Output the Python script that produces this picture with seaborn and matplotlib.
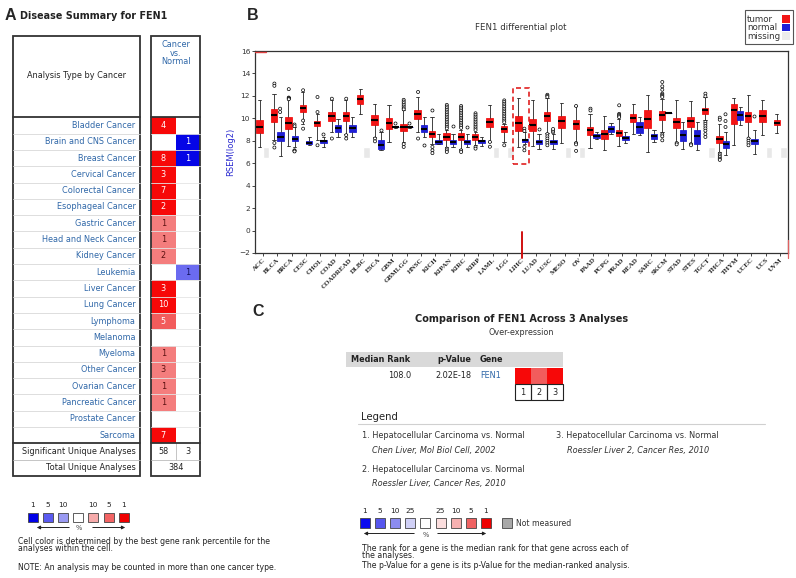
import numpy as np
import pandas as pd
import seaborn as sns
import matplotlib.pyplot as plt
from matplotlib.patches import Rectangle

sns.set_theme(style='white')
plt.rcParams['font.family'] = ['DejaVu Sans']

# ---------------- panel A data (Oncomine disease summary) ----------------
cancer_types = ['Bladder Cancer', 'Brain and CNS Cancer', 'Breast Cancer', 'Cervical Cancer',
                'Colorectal Cancer', 'Esophageal Cancer', 'Gastric Cancer', 'Head and Neck Cancer',
                'Kidney Cancer', 'Leukemia', 'Liver Cancer', 'Lung Cancer', 'Lymphoma', 'Melanoma',
                'Myeloma', 'Other Cancer', 'Ovarian Cancer', 'Pancreatic Cancer', 'Prostate Cancer',
                'Sarcoma']
up_counts = [4, None, 8, 3, 7, 2, 1, 1, 2, None, 3, 10, 5, None, 1, 3, 1, 1, None, 7]
up_levels = [1, None, 1, 1, 1, 1, 10, 10, 10, None, 1, 1, 5, None, 10, 10, 10, 10, None, 1]
down_counts = [None, 1, 1, None, None, None, None, None, None, 1,
               None, None, None, None, None, None, None, None, None, None]
down_levels = [None, 1, 1, None, None, None, None, None, None, 10,
               None, None, None, None, None, None, None, None, None, None]
sig_up, sig_down, total_analyses = 58, 3, 384

# ---------------- panel B data (RSEM log2 boxes: low whisker, q1, median, q3, high whisker) ----------------
cancers = ['ACC', 'BLCA', 'BRCA', 'CESC', 'CHOL', 'COAD', 'COADREAD', 'DLBC', 'ESCA', 'GBM',
           'GBMLGG', 'HNSC', 'KICH', 'KIPAN', 'KIRC', 'KIRP', 'LAML', 'LGG', 'LIHC', 'LUAD',
           'LUSC', 'MESO', 'OV', 'PAAD', 'PCPG', 'PRAD', 'READ', 'SARC', 'SKCM', 'STAD',
           'STES', 'TGCT', 'THCA', 'THYM', 'UCEC', 'UCS', 'UVM']
tumor_stats = [
    (7.45, 8.69, 9.23, 9.82, 11.6), (8.04, 9.67, 10.27, 10.86, 12.2), (7.5, 9.08, 9.58, 10.12, 11.9),
    (9.52, 10.56, 10.95, 11.16, 12.35), (8.04, 9.29, 9.58, 9.76, 10.4), (8.8, 9.76, 10.18, 10.56, 11.6),
    (8.63, 9.76, 10.18, 10.56, 11.6), (10.36, 11.3, 11.75, 12.05, 12.65), (8.34, 9.38, 9.82, 10.27, 11.3),
    (7.9, 9.08, 9.58, 10.06, 11.16), (7.9, 8.87, 9.23, 9.52, 10.7), (8.78, 9.97, 10.42, 10.77, 11.9),
    (7.74, 8.34, 8.63, 8.87, 10.1), (7.45, 8.07, 8.34, 8.67, 8.96), (7.3, 8.07, 8.34, 8.67, 8.96),
    (7.6, 8.07, 8.3, 8.6, 8.8), (7.9, 9.23, 9.67, 10.03, 11.19), (7.9, 8.75, 9.08, 9.34, 9.5),
    (7.45, 8.87, 9.58, 10.18, 11.84), (7.5, 8.87, 9.44, 9.97, 11.66), (8.7, 9.76, 10.18, 10.56, 11.8),
    (7.8, 9.17, 9.73, 10.18, 11.37), (7.9, 9.08, 9.47, 9.82, 11.07), (7.4, 8.49, 8.93, 9.23, 10.42),
    (7.15, 8.19, 8.57, 8.99, 10.18), (7.5, 8.4, 8.7, 8.93, 9.97), (8.63, 9.67, 10.06, 10.42, 11.25),
    (7.0, 9.17, 9.97, 10.71, 12.05), (8.78, 9.82, 10.27, 10.65, 11.75), (7.9, 9.17, 9.67, 10.06, 11.6),
    (7.8, 9.23, 9.76, 10.12, 11.54), (9.82, 10.42, 10.71, 10.95, 11.9), (7.0, 7.8, 8.19, 8.4, 9.52),
    (7.6, 9.47, 10.77, 11.25, 11.8), (8.28, 9.67, 10.18, 10.56, 12.05), (8.49, 9.67, 10.18, 10.71, 11.66),
    (8.7, 9.38, 9.58, 9.82, 10.42),
]
normal_stats = [
    None, (6.6, 7.98, 8.34, 8.78, 10.1), (7.45, 7.98, 8.19, 8.4, 9.2),
    (7.6, 7.68, 7.83, 7.98, 8.34), (7.45, 7.8, 7.95, 8.1, 8.34), (8.34, 8.78, 9.17, 9.38, 9.97),
    (8.34, 8.78, 9.17, 9.38, 10.1), None, (7.15, 7.3, 7.6, 8.1, 8.78),
    (9.17, 9.2, 9.23, 9.26, 9.29), (9.17, 9.2, 9.23, 9.26, 9.29), (8.34, 8.78, 9.08, 9.38, 10.1),
    (7.68, 7.74, 7.9, 8.1, 8.57), (7.45, 7.74, 7.9, 8.1, 8.63), (7.45, 7.74, 7.9, 8.1, 8.63),
    (7.5, 7.8, 7.95, 8.1, 8.34), None, None,
    (7.68, 7.9, 8.04, 8.19, 8.78), (7.3, 7.68, 7.9, 8.04, 8.63), (7.3, 7.68, 7.9, 8.04, 8.6),
    None, None, (8.19, 8.28, 8.43, 8.57, 8.78),
    (8.63, 8.78, 9.08, 9.32, 9.58), (7.8, 8.1, 8.28, 8.43, 8.78), (8.49, 8.7, 9.23, 9.67, 10.1),
    (7.9, 8.19, 8.4, 8.57, 8.93), (10.5, 10.5, 10.5, 10.5, 10.5), (7.3, 7.98, 8.49, 8.93, 9.67),
    (7.15, 7.74, 8.4, 8.93, 9.67), None, (6.7, 7.39, 7.68, 7.98, 8.78),
    (9.38, 9.82, 10.27, 10.62, 11.0), (6.85, 7.68, 7.98, 8.19, 8.99), None,
    None,
]
tumor_fliers = [
    [], [13.1, 12.9, 7.8, 7.4], [12.6, 11.85, 11.8, 11.75, 11.7], [12.5, 9.8, 9.08], [11.9, 10.56, 7.6],
    [11.75, 8.2], [11.75, 8.5, 8.2], [], [8.2, 7.95], [],
    [11.65, 11.5, 11.35, 11.2, 11.05, 10.9, 10.8, 7.7, 7.45], [12.35, 8.2], [10.7, 7.45, 7.15, 6.9],
    [11.2, 11.05, 10.9, 10.75, 10.6, 10.45, 10.3, 10.15, 10.0, 9.85, 9.7, 9.55, 9.4, 9.25, 9.1, 7.3, 7.15, 7.0],
    [11.1, 10.95, 10.8, 10.65, 10.5, 10.35, 10.2, 10.05, 9.9, 9.75, 9.6, 9.45, 9.3, 9.15, 7.15, 7.0],
    [10.45, 10.3, 10.15, 10.0, 9.85, 9.7, 9.55, 9.4, 9.25, 9.1, 8.95, 7.45, 7.3],
    [7.9, 7.47],
    [11.6, 11.45, 11.3, 11.15, 11.0, 10.85, 10.7, 10.55, 10.4, 10.25, 10.1, 9.95, 9.8, 9.65, 7.6],
    [], [], [12.1, 12.0, 11.9, 8.6, 8.4, 8.2, 8.0, 7.8, 7.6], [], [11.1, 7.8, 7.68, 7.1],
    [10.86, 10.7], [], [11.16, 10.4, 10.3, 10.2, 10.1], [], [],
    [13.24, 12.85, 12.55, 12.2, 12.1, 12.0, 11.9, 8.57, 8.4, 8.04], [7.8, 7.68], [7.7, 7.6],
    [12.2, 11.96, 9.67, 9.5, 9.3, 9.1, 8.9, 8.6, 8.34], [10.06, 9.88, 6.85, 6.7, 6.55, 6.4, 6.3],
    [], [8.2, 8.0, 7.8, 7.6], [], [],
]
normal_fliers = [
    [], [10.86, 10.56], [9.45, 9.3, 7.15, 7.1, 7.05], [], [8.6], [], [], [], [8.93], [9.6],
    [9.6], [7.6], [], [9.3], [9.23], [], [], [], [9.08, 8.87, 7.45, 7.15], [9.08],
    [8.75, 8.9, 9.05], [], [], [], [], [], [], [], [], [],
    [], [], [10.36, 9.76, 9.23], [], [10.18], [], [],
]
highlight = 'LIHC'

# ---------------- panel C data ----------------
median_rank, p_value, gene = '108.0', '2.02E-18', 'FEN1'
analysis_levels = [1, 5, 1]
analysis_titles = ['1. Hepatocellular Carcinoma vs. Normal', '2. Hepatocellular Carcinoma vs. Normal',
                   '3. Hepatocellular Carcinoma vs. Normal']
analysis_refs = ['Chen Liver, Mol Biol Cell, 2002', 'Roessler Liver, Cancer Res, 2010',
                 'Roessler Liver 2, Cancer Res, 2010']

RED = {1: '#f70808', 5: '#f25c5c', 10: '#f47d7d'}
BLUE = {1: '#0505e6', 10: '#6b6bf0'}
LINK = '#2f67a8'

fig = plt.figure(figsize=(7.96, 5.78), dpi=100)
ov = fig.add_axes([0, 0, 1, 1])
ov.set_xlim(0, 796)
ov.set_ylim(578, 0)
ov.axis('off')

# ======================= panel A =======================
ov.text(5, 15, 'A', fontsize=11.5, fontweight='bold', va='center', family='Liberation Sans')
ov.text(20, 16, 'Disease Summary for FEN1', fontsize=6.9, fontweight='bold', va='center', color='#222222')

LX0, LX1, RX0, RXM, RX1 = 12.5, 140, 151, 175.7, 200
TOP, HEAD_BOT, ROW_H = 36, 117.3, 16.3
body_bot = HEAD_BOT + len(cancer_types) * ROW_H
sig_bot = body_bot + ROW_H
tot_bot = sig_bot + ROW_H

for i, name in enumerate(cancer_types):
    y0 = HEAD_BOT + i * ROW_H
    yc = y0 + ROW_H / 2
    ov.text(LX1 - 4.5, yc, name, ha='right', va='center', fontsize=5.9, color=LINK)
    if up_counts[i] is not None:
        lv = up_levels[i]
        ov.add_patch(Rectangle((RX0, y0), RXM - RX0, ROW_H, color=RED[lv], lw=0))
        ov.text((RX0 + RXM) / 2, yc, str(up_counts[i]), ha='center', va='center', fontsize=5.9,
                color='white' if lv < 10 else '#5a1010')
    if down_counts[i] is not None:
        lv = down_levels[i]
        ov.add_patch(Rectangle((RXM, y0), RX1 - RXM, ROW_H, color=BLUE[lv], lw=0))
        ov.text((RXM + RX1) / 2, yc, str(down_counts[i]), ha='center', va='center', fontsize=5.9,
                color='white' if lv < 10 else '#10105a')
    if i > 0:
        ov.plot([LX0, LX1], [y0, y0], color='#d8d8d8', lw=0.6)
        ov.plot([RX0, RX1], [y0, y0], color='#e4e4e4', lw=0.6)

ov.text((LX0 + LX1) / 2, 75, 'Analysis Type by Cancer', ha='center', va='center', fontsize=5.9, color='#222222')
ov.text(RXM, 53, 'Cancer\nvs.\nNormal', ha='center', va='center', fontsize=5.9, color=LINK, linespacing=0.95)
ov.text(LX1 - 4.5, body_bot + ROW_H / 2, 'Significant Unique Analyses', ha='right', va='center', fontsize=5.9, color='#222222')
ov.text(LX1 - 4.5, sig_bot + ROW_H / 2, 'Total Unique Analyses', ha='right', va='center', fontsize=5.9, color='#222222')
ov.text((RX0 + RXM) / 2, body_bot + ROW_H / 2, str(sig_up), ha='center', va='center', fontsize=5.9, color='#222222')
ov.text((RXM + RX1) / 2, body_bot + ROW_H / 2, str(sig_down), ha='center', va='center', fontsize=5.9, color='#222222')
ov.text(RXM, sig_bot + ROW_H / 2, str(total_analyses), ha='center', va='center', fontsize=5.9, color='#222222')
ov.plot([RXM, RXM], [body_bot, sig_bot], color='#bbbbbb', lw=0.6)
for xa, xb in [(LX0, LX1), (RX0, RX1)]:
    ov.plot([xa, xb], [sig_bot, sig_bot], color='#bbbbbb', lw=0.6)
    ov.plot([xa, xb], [HEAD_BOT, HEAD_BOT], color='#333333', lw=1.3)
    ov.plot([xa, xb], [body_bot, body_bot], color='#333333', lw=1.3)
    ov.add_patch(Rectangle((xa, TOP), xb - xa, tot_bot - TOP, fill=False, ec='#333333', lw=1.3))

# colour key of panel A
keyA_labels = ['1', '5', '10', '', '10', '5', '1']
keyA_colors = ['#0000e8', '#5a5af0', '#9a9af2', 'white', '#f6aaaa', '#f26464', '#f00000']
for k, (lab, col) in enumerate(zip(keyA_labels, keyA_colors)):
    x0 = 28 + 15.1 * k
    ov.add_patch(Rectangle((x0, 512.5), 10, 9.5, fc=col, ec='#444444', lw=0.6))
    ov.text(x0 + 5, 505, lab, ha='center', va='center', fontsize=5.3, color='#222222')
ov.annotate('', xy=(34, 527.5), xytext=(72, 527.5),
            arrowprops=dict(arrowstyle='-|>', color='#222222', lw=0.7, mutation_scale=5))
ov.annotate('', xy=(128, 527.5), xytext=(90, 527.5),
            arrowprops=dict(arrowstyle='-|>', color='#222222', lw=0.7, mutation_scale=5))
ov.text(78.5, 528.5, '%', ha='center', va='center', fontsize=4.8, color='#444444')
ov.text(18, 545, 'Cell color is determined by the best gene rank percentile for the\nanalyses within the cell.',
        ha='left', va='center', fontsize=5.6, color='#222222', linespacing=0.85)
ov.text(18, 567.5, 'NOTE: An analysis may be counted in more than one cancer type.',
        ha='left', va='center', fontsize=5.6, color='#222222')

# ======================= panel B =======================
ov.text(247, 16, 'B', fontsize=11.5, fontweight='bold', va='center', family='Liberation Sans')
ov.text(521, 27, 'FEN1 differential plot', ha='center', va='center', fontsize=6.2, color='#333333')
ov.add_patch(Rectangle((745, 10), 48, 34, fill=False, ec='#555555', lw=0.8))
for j, (lab, col) in enumerate(zip(['tumor', 'normal', 'missing'], ['#f21515', '#1f1fd6', '#ececec'])):
    ov.text(747, 19.3 + 8.7 * j, lab, ha='left', va='center', fontsize=6.2, color='#333333')
    ov.add_patch(Rectangle((782, 15 + 8.7 * j), 8, 7.7, color=col, lw=0))

rows = []
for c, st in zip(cancers, tumor_stats):
    rows += [(c, 'tumor', v) for v in st]
for c, st in zip(cancers, normal_stats):
    if st is not None:
        rows += [(c, 'normal', v) for v in st]
box_df = pd.DataFrame(rows, columns=['cancer', 'group', 'rsem'])

frows = []
for c, fl in zip(cancers, tumor_fliers):
    frows += [(c, 'tumor', v) for v in fl]
for c, fl in zip(cancers, normal_fliers):
    frows += [(c, 'normal', v) for v in fl]
flier_df = pd.DataFrame(frows, columns=['cancer', 'group', 'rsem'])

axB = fig.add_axes([255 / 796, 1 - 253 / 578, 533 / 796, 202 / 578])
sns.boxplot(data=box_df, x='cancer', y='rsem', hue='group', order=cancers, hue_order=['tumor', 'normal'],
            palette={'tumor': '#f21515', 'normal': '#1f1fd6'}, saturation=1, width=0.9, gap=0,
            whis=(0, 100), showfliers=False, linecolor='#222222', linewidth=0.6,
            medianprops={'color': 'black', 'linewidth': 1.5}, legend=False, ax=axB)
for p in axB.patches:
    p.set_edgecolor(p.get_facecolor())
sns.stripplot(data=flier_df, x='cancer', y='rsem', hue='group', order=cancers, hue_order=['tumor', 'normal'],
              dodge=True, jitter=False, palette={'tumor': 'white', 'normal': 'white'}, edgecolor='black',
              linewidth=0.5, size=2.2, legend=False, ax=axB, zorder=3)

# grey placeholders for groups without normal samples
missing_pos = [i + 0.225 for i, st in enumerate(normal_stats) if st is None]
axB.bar(missing_pos, 1.0, bottom=6.45, width=0.45, color='#e8e8e8', zorder=0)

hi = cancers.index(highlight)
axB.add_patch(Rectangle((hi - 0.62, 5.9), 1.17, 6.83, fill=False, ec='#e02020', lw=1.2, ls=(0, (3, 2)), zorder=4))
axB.plot([hi, hi], [-0.1, -2.45], color='#d01010', lw=1.4, clip_on=False, zorder=5)
axB.plot([-0.55, 0.25], [15.9, 15.9], color='#e04040', lw=1.0, zorder=5)
axB.plot([36.52, 36.52], [-0.8, -2.45], color='#e06060', lw=0.9, clip_on=False, zorder=5)

axB.set_xlim(-0.55, len(cancers) - 0.45)
axB.set_ylim(-2, 16)
axB.set_yticks(range(-2, 17, 2))
axB.tick_params(axis='y', labelsize=5.3, length=2, width=0.6, pad=1.5, left=True, labelcolor='#333333')
axB.tick_params(axis='x', labelsize=5, length=2, width=0.6, pad=1, bottom=True)
axB.set_xticks(range(len(cancers)))
axB.set_xticklabels(cancers, rotation=45, ha='right', rotation_mode='anchor',
                    fontweight='bold', family='Liberation Serif')
axB.set_xlabel('')
axB.set_ylabel('RSEM(log2)', fontsize=6, color='#2a2ad0', labelpad=3)
for s in axB.spines.values():
    s.set_color('#333333')
    s.set_linewidth(0.9)

# ======================= panel C =======================
ov.text(252, 311, 'C', fontsize=11.5, fontweight='bold', va='center', family='Liberation Sans')
ov.text(521.5, 319.5, 'Comparison of FEN1 Across 3 Analyses', ha='center', va='center',
        fontsize=7, fontweight='bold', color='#222222')
ov.text(521.5, 332.5, 'Over-expression', ha='center', va='center', fontsize=5.8, color='#333333')
ov.add_patch(Rectangle((346, 351.7), 563.3 - 346, 15.6, color='#d9d9d9', lw=0))
ov.text(410, 360, 'Median Rank', ha='right', va='center', fontsize=5.9, fontweight='bold', color='#222222')
ov.text(471, 360, 'p-Value', ha='right', va='center', fontsize=5.9, fontweight='bold', color='#222222')
ov.text(480, 360, 'Gene', ha='left', va='center', fontsize=5.9, fontweight='bold', color='#222222')
ov.text(411.5, 376, median_rank, ha='right', va='center', fontsize=5.9, color='#222222')
ov.text(472, 376, p_value, ha='right', va='center', fontsize=5.9, color='#222222')
ov.text(480.5, 376, gene, ha='left', va='center', fontsize=5.9, color=LINK)
for k, lv in enumerate(analysis_levels):
    x0 = 515 + 16.1 * k
    ov.add_patch(Rectangle((x0, 367.7), 16.1, 16.3, color=RED[lv], lw=0))
    ov.add_patch(Rectangle((x0, 384), 16.1, 16, fill=False, ec='#222222', lw=0.8))
    ov.text(x0 + 8.05, 392.3, str(k + 1), ha='center', va='center', fontsize=5.9, color='#222222')

ov.text(361.5, 417, 'Legend', ha='left', va='center', fontsize=7.3, color='#222222')
ov.plot([358, 765], [424.3, 424.3], color='#d0d0d0', lw=0.8)
leg_xy = [(361.5, 436), (361.5, 469), (556, 436)]
for (x, y), t, r in zip(leg_xy, analysis_titles, analysis_refs):
    ov.text(x, y, t, ha='left', va='center', fontsize=5.9, color='#333333')
    ov.text(x + 11, y + 14.6, r, ha='left', va='center', fontsize=5.9, style='italic', color='#333333')

keyC_labels = ['1', '5', '10', '25', '', '25', '10', '5', '1']
keyC_colors = ['#0a0aee', '#5656ee', '#8c8cf0', '#d0d0f6', 'white', '#fcdede', '#f6b0b0', '#f06262', '#ee0000']
for k, (lab, col) in enumerate(zip(keyC_labels, keyC_colors)):
    x0 = 360 + 15.1 * k
    ov.add_patch(Rectangle((x0, 518.3), 10, 10, fc=col, ec='#444444', lw=0.6))
    ov.text(x0 + 5, 511, lab, ha='center', va='center', fontsize=5.3, color='#222222')
ov.add_patch(Rectangle((502.3, 518.3), 10, 10, fc='#a8a8a8', ec='#444444', lw=0.6))
ov.text(516, 523.3, 'Not measured', ha='left', va='center', fontsize=5.6, color='#333333')
ov.annotate('', xy=(361, 533.5), xytext=(417, 533.5),
            arrowprops=dict(arrowstyle='-|>', color='#222222', lw=0.7, mutation_scale=5))
ov.annotate('', xy=(489, 533.5), xytext=(435, 533.5),
            arrowprops=dict(arrowstyle='-|>', color='#222222', lw=0.7, mutation_scale=5))
ov.text(425.7, 535, '%', ha='center', va='center', fontsize=4.8, color='#444444')
ov.text(361.5, 552, 'The rank for a gene is the median rank for that gene across each of\nthe analyses.',
        ha='left', va='center', fontsize=5.6, color='#222222', linespacing=0.85)
ov.text(361.5, 565.5, 'The p-Value for a gene is its p-Value for the median-ranked analysis.',
        ha='left', va='center', fontsize=5.6, color='#222222')

fig.savefig('out.png', dpi=100)
